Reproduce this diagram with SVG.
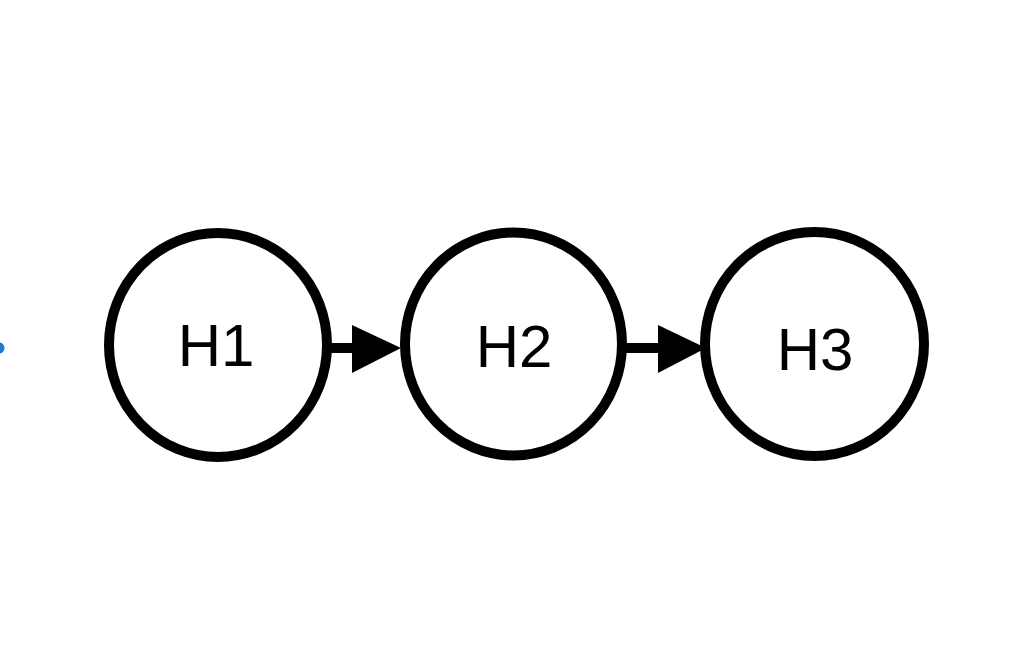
<svg xmlns="http://www.w3.org/2000/svg" width="1012" height="656" viewBox="0 0 1012 656">
<style>
.node ellipse{fill:#fff;stroke:#000;stroke-width:10}
.node text{font-family:"Liberation Sans",Arial,sans-serif;font-size:60px;fill:#000;text-anchor:middle}
.edge line{stroke:#000;stroke-width:10}
.edge polygon{fill:#000}
</style>
<rect width="1012" height="656" fill="#fff"/>
<circle cx="-1" cy="348" r="5.5" fill="#1e78d2"/>
<g id="H1" class="node"><ellipse cx="218" cy="345" rx="109" ry="112"/><text x="216" y="366">H1</text></g>
<g id="H2" class="node"><ellipse cx="513.5" cy="344" rx="108.5" ry="111.5"/><text x="514" y="367">H2</text></g>
<g id="H3" class="node"><ellipse cx="814.5" cy="344" rx="109.5" ry="112"/><text x="815" y="370">H3</text></g>
<g id="connectors" class="edge">
<line x1="322" y1="348" x2="354" y2="348"/><polygon points="352,325 352,373 401,348"/>
<line x1="622" y1="348" x2="660" y2="348"/><polygon points="658,325 658,373 706,348"/>
</g>
</svg>
